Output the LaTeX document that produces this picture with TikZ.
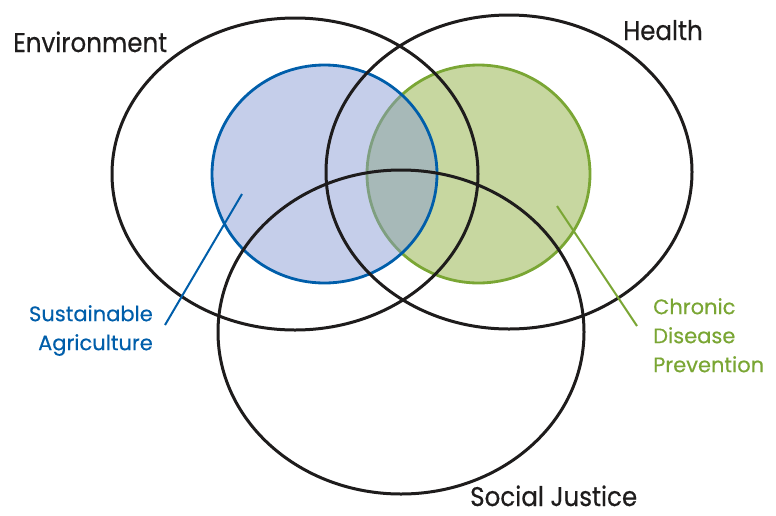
\documentclass[tikz,border=0pt]{standalone}
\usepackage{fontspec}
\setmainfont{Poppins}
\newfontfamily\setfont{Poppins}[FakeStretch=0.91, FakeBold=0.5]
\newfontfamily\subfont{Poppins}[FakeBold=0.4]
\usetikzlibrary{positioning}

\definecolor{agblue}{RGB}{0,94,170}
\definecolor{agfill}{RGB}{134,153,211}
\definecolor{cdgreen}{RGB}{122,166,52}
\definecolor{cdfill}{RGB}{199,215,160}
\definecolor{setline}{RGB}{30,28,28}

\tikzset{
  setring/.style={draw=setline, line width=3pt},
  bigtitle/.style={font=\setfont\fontsize{27}{30}\selectfont, text=setline, inner sep=0pt},
  sublabel/.style={font=\subfont\fontsize{21}{29}\selectfont, inner sep=0pt},
}

\begin{document}
\begin{tikzpicture}[x=1pt,y=-1pt]
\useasboundingbox (0,0) rectangle (776,515);

% inner circles
\filldraw[fill=cdfill, draw=cdgreen, line width=2.8pt] (478.5,174) ellipse (111.5 and 109);
\fill[agfill, fill opacity=0.48] (324.5,174) ellipse (112.5 and 109);
\draw[agblue, line width=2.8pt] (324.5,174) ellipse (112.5 and 109);

% the three sets
\draw[setring] (295,174) ellipse (183 and 156);
\draw[setring] (509,172) ellipse (183 and 157);
\draw[setring] (401,332) ellipse (183 and 162);

\node[bigtitle, anchor=base west] (env) at (13,52) {Environment};
\node[bigtitle, anchor=base west] (health) at (623,40) {Health};
\node[bigtitle, anchor=base west] (social) at (470,506) {Social Justice};

\node[sublabel, text=agblue, align=right, anchor=north east] (agri) at (153,305) {Sustainable\\Agriculture};
\node[sublabel, text=cdgreen, align=left, anchor=north west] (chronic) at (653,298) {Chronic\\Disease\\Prevention};

\coordinate (agpin) at (242,194);
\coordinate (agend) at (165,325);
\coordinate (cdpin) at (557,206);
\coordinate (cdend) at (637,326);
\draw[agblue, line width=2pt] (agpin) -- (agend);
\draw[cdgreen, line width=2pt] (cdpin) -- (cdend);
\end{tikzpicture}
\end{document}
